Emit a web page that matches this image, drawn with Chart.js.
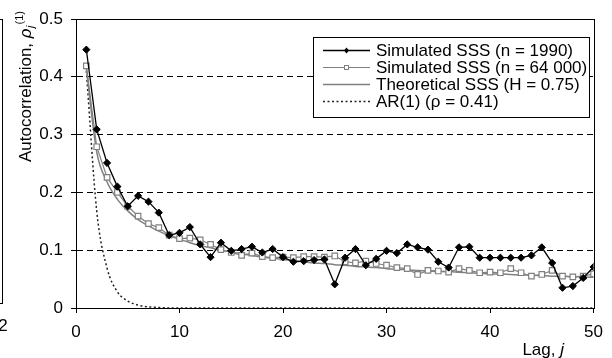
<!DOCTYPE html>
<html>
<head>
<meta charset="utf-8">
<script src="https://cdn.jsdelivr.net/npm/chart.js@4.4.1/dist/chart.umd.min.js"></script>
<style>
  html, body { margin: 0; padding: 0; background: #fff; }
  #chart { display: block; }
</style>
</head>
<body>
<canvas id="chart" width="612" height="358"></canvas>
<script>
// lags 1..50
const lags = [1, 2, 3, 4, 5, 6, 7, 8, 9, 10, 11, 12, 13, 14, 15, 16, 17, 18, 19, 20,
  21, 22, 23, 24, 25, 26, 27, 28, 29, 30, 31, 32, 33, 34, 35, 36, 37, 38, 39, 40,
  41, 42, 43, 44, 45, 46, 47, 48, 49, 50];

const sim1990 = [0.447, 0.309, 0.251, 0.210, 0.176, 0.194, 0.184, 0.165, 0.126, 0.130,
  0.140, 0.110, 0.088, 0.113, 0.099, 0.102, 0.106, 0.096, 0.102, 0.088,
  0.080, 0.081, 0.083, 0.084, 0.041, 0.087, 0.102, 0.074, 0.085, 0.099,
  0.095, 0.110, 0.105, 0.101, 0.080, 0.070, 0.105, 0.106, 0.087, 0.087,
  0.087, 0.087, 0.087, 0.091, 0.105, 0.078, 0.035, 0.038, 0.052, 0.071];

const sim64000 = [0.419, 0.279, 0.226, 0.200, 0.176, 0.159, 0.146, 0.139, 0.126, 0.120,
  0.121, 0.118, 0.110, 0.101, 0.096, 0.091, 0.095, 0.089, 0.087, 0.088,
  0.087, 0.089, 0.089, 0.088, 0.090, 0.080, 0.078, 0.081, 0.077, 0.074,
  0.070, 0.068, 0.058, 0.065, 0.064, 0.062, 0.068, 0.065, 0.061, 0.062,
  0.061, 0.068, 0.061, 0.055, 0.058, 0.065, 0.055, 0.054, 0.055, 0.059];

const theoretical = [0.414, 0.270, 0.218, 0.188, 0.168, 0.153, 0.142, 0.133, 0.125, 0.119,
  0.113, 0.108, 0.104, 0.100, 0.097, 0.094, 0.091, 0.088, 0.086, 0.084,
  0.082, 0.080, 0.078, 0.077, 0.075, 0.074, 0.072, 0.071, 0.070, 0.068,
  0.067, 0.066, 0.065, 0.064, 0.063, 0.063, 0.062, 0.061, 0.060, 0.059,
  0.059, 0.058, 0.057, 0.057, 0.056, 0.055, 0.055, 0.054, 0.054, 0.053];

const ar1 = [0.410, 0.168, 0.069, 0.028, 0.012, 0.005, 0.002, 0.001, 0, 0,
  0, 0, 0, 0, 0, 0, 0, 0, 0, 0,
  0, 0, 0, 0, 0, 0, 0, 0, 0, 0,
  0, 0, 0, 0, 0, 0, 0, 0, 0, 0,
  0, 0, 0, 0, 0, 0, 0, 0, 0, 0];

const seriesNames = ['Simulated SSS (n = 1990)', 'Simulated SSS (n = 64 000)',
  'Theoretical SSS (H = 0.75)', 'AR(1) (\u03c1 = 0.41)'];
const xTickLabels = ['0', '10', '20', '30', '40', '50'];
const yTickLabels = ['0', '0.1', '0.2', '0.3', '0.4', '0.5'];

const FONT = '"Liberation Sans", Arial, sans-serif';
const FSIZE = 17;

const toPoints = (vals) => vals.map((v, i) => ({x: lags[i], y: v}));

// legend box + axis titles + frame, drawn by hand
const decorPlugin = {
  id: 'decor',
  afterDraw(chart) {
    const ctx = chart.ctx;
    const a = chart.chartArea;
    ctx.save();

    // frame around the plot
    ctx.strokeStyle = '#000';
    ctx.lineWidth = 1;
    ctx.setLineDash([]);
    ctx.strokeRect(Math.round(a.left) + 0.5, Math.round(a.top) + 0.5,
      Math.round(a.right - a.left), Math.round(a.bottom - a.top));

    // leftover edge of the neighbouring panel
    ctx.beginPath();
    ctx.moveTo(0, 19.5); ctx.lineTo(2.5, 19.5);
    ctx.moveTo(2.5, 19); ctx.lineTo(2.5, 304);
    ctx.moveTo(0, 303.5); ctx.lineTo(2.5, 303.5);
    ctx.stroke();
    ctx.fillStyle = '#000';
    ctx.font = FSIZE + 'px ' + FONT;
    ctx.textAlign = 'center';
    ctx.textBaseline = 'middle';
    ctx.fillText('2', 3, 326);

    // x title
    ctx.textBaseline = 'middle';
    ctx.textAlign = 'left';
    ctx.font = 'italic ' + FSIZE + 'px ' + FONT;
    const jw = ctx.measureText('j').width;
    ctx.font = FSIZE + 'px ' + FONT;
    const lw = ctx.measureText('Lag, ').width;
    const xEnd = 564;
    ctx.fillText('Lag, ', xEnd - jw - lw, 350);
    ctx.font = 'italic ' + FSIZE + 'px ' + FONT;
    ctx.fillText('j', xEnd - jw, 350);

    // y title (rotated)
    ctx.save();
    ctx.translate(31, 162);
    ctx.rotate(-Math.PI / 2);
    ctx.textBaseline = 'alphabetic';
    ctx.textAlign = 'left';
    ctx.font = FSIZE + 'px ' + FONT;
    let px = 0;
    ctx.fillText('Autocorrelation, ', px, 0);
    px += ctx.measureText('Autocorrelation, ').width;
    ctx.font = 'italic ' + FSIZE + 'px ' + FONT;
    ctx.fillText('\u03c1', px, 0);
    px += ctx.measureText('\u03c1').width + 0.5;
    ctx.font = 'italic 11px ' + FONT;
    ctx.fillText('j', px, 3);
    px += ctx.measureText('j').width + 1;
    ctx.font = '11px ' + FONT;
    ctx.fillText('(1)', px, -8);
    ctx.restore();

    // legend
    const bx = 313.5, by = 37.5, bw = 276, bh = 80;
    ctx.fillStyle = '#fff';
    ctx.fillRect(bx, by, bw, bh);
    ctx.strokeStyle = '#000';
    ctx.lineWidth = 1;
    ctx.strokeRect(bx, by, bw, bh);
    const rows = [50, 67, 84, 101];
    const ds = chart.data.datasets;
    ds.forEach((d, i) => {
      const y = rows[i];
      ctx.strokeStyle = d.borderColor;
      ctx.lineWidth = d.borderWidth;
      ctx.setLineDash(d.borderDash || []);
      ctx.beginPath();
      ctx.moveTo(323, y + 0.5);
      ctx.lineTo(370, y + 0.5);
      ctx.stroke();
      ctx.setLineDash([]);
      if (i === 0) {
        ctx.fillStyle = '#000';
        ctx.beginPath();
        ctx.moveTo(346.5, y - 2.5); ctx.lineTo(349, y + 0.5);
        ctx.lineTo(346.5, y + 3.5); ctx.lineTo(344, y + 0.5);
        ctx.closePath();
        ctx.fill();
      } else if (i === 1) {
        ctx.fillStyle = '#fff';
        ctx.fillRect(344.5, y - 1.5, 4, 4);
        ctx.strokeStyle = '#808080';
        ctx.lineWidth = 1;
        ctx.strokeRect(344.5, y - 1.5, 4, 4);
      }
      ctx.fillStyle = '#000';
      ctx.font = FSIZE + 'px ' + FONT;
      ctx.textAlign = 'left';
      ctx.textBaseline = 'middle';
      ctx.fillText(seriesNames[i], 376, y + 1);
    });

    ctx.restore();
  }
};

new Chart(document.getElementById('chart'), {
  type: 'line',
  data: {
    datasets: [
      {
        label: seriesNames[0],
        data: toPoints(sim1990),
        borderColor: '#000',
        backgroundColor: '#000',
        borderWidth: 1.3,
        pointStyle: 'rectRot',
        pointRadius: 3.6,
        pointBorderWidth: 1,
        tension: 0,
        order: 1
      },
      {
        label: seriesNames[1],
        data: toPoints(sim64000),
        borderColor: '#808080',
        backgroundColor: '#fff',
        borderWidth: 1.2,
        pointStyle: 'rect',
        pointRadius: 3.9,
        pointBorderWidth: 1.2,
        tension: 0,
        order: 2
      },
      {
        label: seriesNames[2],
        data: toPoints(theoretical),
        borderColor: '#808080',
        borderWidth: 1.5,
        pointRadius: 0,
        cubicInterpolationMode: 'monotone',
        order: 3
      },
      {
        label: seriesNames[3],
        data: toPoints(ar1),
        borderColor: '#222',
        borderWidth: 1.5,
        borderDash: [2, 2.5],
        pointRadius: 0,
        cubicInterpolationMode: 'monotone',
        order: 4
      }
    ]
  },
  options: {
    responsive: false,
    animation: false,
    layout: {padding: {left: 0, right: 9, top: 19, bottom: 0}},
    plugins: {
      legend: {display: false},
      tooltip: {enabled: false}
    },
    scales: {
      x: {
        type: 'linear',
        min: 0,
        max: 50,
        afterBuildTicks: (s) => { s.ticks = xTickLabels.map(t => ({value: Number(t)})); },
        ticks: {
          color: '#000',
          font: {family: FONT, size: FSIZE},
          padding: 9,
          maxRotation: 0,
          callback: (v, i) => xTickLabels[i]
        },
        grid: {drawOnChartArea: false, drawTicks: true, tickLength: 5, color: '#000'},
        border: {color: '#000', width: 1},
        afterFit: (s) => { s.height = 50; }
      },
      y: {
        min: 0,
        max: 0.5,
        afterBuildTicks: (s) => { s.ticks = yTickLabels.map(t => ({value: Number(t)})); },
        ticks: {
          color: '#000',
          font: {family: FONT, size: FSIZE},
          padding: 8,
          callback: (v, i) => yTickLabels[i]
        },
        grid: {color: '#000', lineWidth: 1, tickLength: 5, tickBorderDash: []},
        border: {color: '#000', width: 1, dash: [6, 4]},
        afterFit: (s) => { s.width = 76; }
      }
    }
  },
  plugins: [decorPlugin]
});
</script>
</body>
</html>
